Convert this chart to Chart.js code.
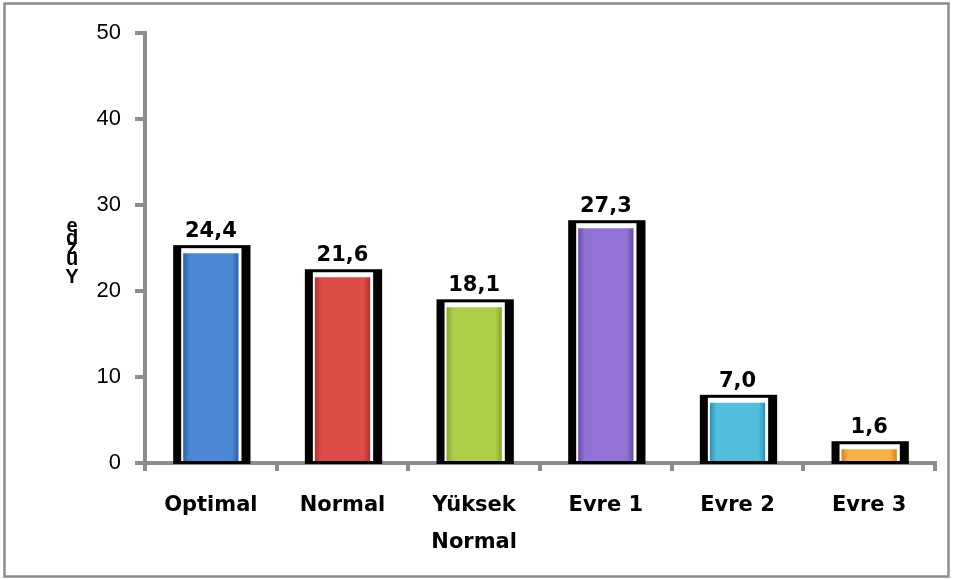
<!DOCTYPE html>
<html lang="tr">
<head>
  <meta charset="UTF-8" />
  <title>Yüzde dağılımı</title>
  <script src="https://cdn.jsdelivr.net/npm/chart.js"></script>
  <style>
    body {
      margin: 0;
      padding: 0;
      background: #ffffff;
    }
    #wrap {
      width: 953px;
      height: 579px;
    }
  </style>
</head>
<body>

<div id="wrap">
  <canvas id="chart" width="953" height="579"></canvas>
</div>

<script>
  // data
  const categories = ['Optimal', 'Normal', ['Yüksek', 'Normal'], 'Evre 1', 'Evre 2', 'Evre 3'];
  const values = [24.4, 21.6, 18.1, 27.3, 7.0, 1.6];
  const valueLabels = ['24,4', '21,6', '18,1', '27,3', '7,0', '1,6'];
  const yTicks = [0, 10, 20, 30, 40, 50];
  const yTitle = 'Yüzde';

  // dark edge / light middle for each bar
  const barDark = ['#2a62ad', '#b3302e', '#86a82a', '#6a48a8', '#2795b8', '#d9801c'];
  const barLight = ['#4a88d6', '#de4c48', '#acce48', '#9272d4', '#52bede', '#f7b244'];

  const BAR_PCT = 0.42;
  const axisGray = '#8c8c8c';

  function barGradient(c) {
    const chart = c.chart;
    const sx = chart.scales.x;
    if (!sx || !chart.chartArea) return barLight[c.dataIndex];
    const cx = sx.getPixelForValue(c.dataIndex);
    const w = (sx.width / categories.length) * BAR_PCT;
    const g = chart.ctx.createLinearGradient(cx - w / 2, 0, cx + w / 2, 0);
    g.addColorStop(0, barDark[c.dataIndex]);
    g.addColorStop(0.12, barLight[c.dataIndex]);
    g.addColorStop(0.88, barLight[c.dataIndex]);
    g.addColorStop(1, barDark[c.dataIndex]);
    return g;
  }

  // black frame behind each bar, value labels, stacked title letters, outer border
  const decor = {
    id: 'decor',
    beforeDatasetsDraw(chart) {
      const ctx = chart.ctx;
      const meta = chart.getDatasetMeta(0);
      ctx.save();
      meta.data.forEach(bar => {
        const p = bar.getProps(['x', 'y', 'base', 'width'], true);
        const l = p.x - p.width / 2;
        ctx.fillStyle = '#000000';
        ctx.fillRect(l - 10, p.y - 8, p.width + 22, p.base - p.y + 11);
        ctx.fillStyle = '#ffffff';
        ctx.fillRect(l - 2, p.y - 5, p.width + 5, p.base - p.y + 5);
      });
      ctx.restore();
    },
    afterDatasetsDraw(chart) {
      const ctx = chart.ctx;
      const meta = chart.getDatasetMeta(0);
      ctx.save();
      ctx.fillStyle = '#000000';
      ctx.font = 'bold 21px "DejaVu Sans"';
      ctx.textAlign = 'center';
      ctx.textBaseline = 'alphabetic';
      meta.data.forEach((bar, i) => {
        ctx.fillText(valueLabels[i], bar.x, bar.y - 16);
      });
      ctx.restore();
    },
    afterDraw(chart) {
      const ctx = chart.ctx;
      ctx.save();
      // axis title, letters piled on top of each other, last letter on top
      ctx.fillStyle = '#000000';
      ctx.font = 'bold 20px "Liberation Sans"';
      ctx.textAlign = 'center';
      ctx.textBaseline = 'alphabetic';
      const letters = Array.from(yTitle).reverse();
      const ys = [232, 244, 254, 265, 283];
      letters.forEach((ch, i) => {
        ctx.fillText(ch, 72, ys[i]);
      });
      // outer frame
      ctx.strokeStyle = axisGray;
      ctx.lineWidth = 2.5;
      ctx.strokeRect(4.5, 3.5, 944, 573);
      ctx.restore();
    }
  };

  new Chart(document.getElementById('chart'), {
    type: 'bar',
    data: {
      labels: categories,
      datasets: [{
        data: values,
        backgroundColor: barGradient,
        borderWidth: 0,
        categoryPercentage: 1,
        barPercentage: BAR_PCT
      }]
    },
    options: {
      responsive: false,
      animation: false,
      layout: {
        padding: { top: 33, right: 18, left: 0, bottom: 0 }
      },
      plugins: {
        legend: { display: false },
        tooltip: { enabled: false }
      },
      scales: {
        x: {
          grid: {
            display: true,
            offset: true,
            drawOnChartArea: false,
            drawTicks: true,
            tickLength: 8,
            color: axisGray,
            lineWidth: 4
          },
          border: { display: true, color: axisGray, width: 4 },
          ticks: {
            color: '#000000',
            padding: 16,
            maxRotation: 0,
            autoSkip: false,
            font: { family: 'DejaVu Sans', size: 21, weight: 'bold', lineHeight: 1.75 }
          },
          afterFit(scale) { scale.height = 116; }
        },
        y: {
          min: yTicks[0],
          max: yTicks[yTicks.length - 1],
          afterBuildTicks(scale) { scale.ticks = yTicks.map(v => ({ value: v })); },
          grid: {
            display: true,
            drawOnChartArea: false,
            drawTicks: true,
            tickLength: 10,
            color: axisGray,
            lineWidth: 4
          },
          border: { display: true, color: axisGray, width: 4 },
          ticks: {
            color: '#000000',
            padding: 14,
            font: { family: 'Liberation Sans', size: 22 }
          },
          afterFit(scale) { scale.width = 145; }
        }
      }
    },
    plugins: [decor]
  });
</script>

</body>
</html>
